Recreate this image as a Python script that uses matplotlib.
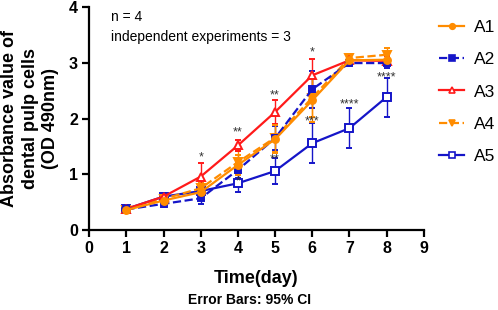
import matplotlib
matplotlib.use("Agg")
import matplotlib.pyplot as plt
from matplotlib.lines import Line2D

plt.rcParams['font.family'] = ['Liberation Sans', 'DejaVu Sans']

days = [1, 2, 3, 4, 5, 6, 7, 8]
A1 = [0.36, 0.53, 0.68, 1.17, 1.63, 2.33, 3.05, 3.06]
A2 = [0.37, 0.47, 0.57, 1.08, 1.65, 2.53, 3.00, 3.00]
A3 = [0.38, 0.60, 0.96, 1.52, 2.12, 2.78, 3.05, 3.04]
A4 = [0.36, 0.56, 0.75, 1.22, 1.66, 2.38, 3.09, 3.15]
A5 = [0.38, 0.60, 0.70, 0.84, 1.06, 1.56, 1.83, 2.39]
A1_err = [0.04, 0.06, 0.10, 0.18, 0.25, 0.38, 0.08, 0.12]
A2_err = [0.04, 0.06, 0.10, 0.15, 0.22, 0.33, 0.05, 0.08]
A3_err = [0.04, 0.06, 0.25, 0.10, 0.22, 0.30, 0.05, 0.08]
A4_err = [0.04, 0.06, 0.10, 0.20, 0.25, 0.35, 0.06, 0.12]
A5_err = [0.04, 0.06, 0.10, 0.15, 0.24, 0.36, 0.36, 0.35]

star_x = [3, 4, 5, 6, 4, 5, 6, 7, 8]
star_y = [1.30, 1.75, 2.42, 3.20, 0.88, 1.26, 1.95, 2.25, 2.75]
star_txt = ['*', '**', '**', '*', '*', '**', '***', '****', '****']

orange = '#FF8C00'
blue = '#1515C8'
red = '#FF1A1A'

fig = plt.figure(figsize=(4.98, 3.10), dpi=100)
ax = fig.add_axes([0.179, 0.258, 0.672, 0.718])

series = [
    ('A5', A5, A5_err, blue, '-', 's', 'white', 5.5),
    ('A4', A4, A4_err, orange, '--', 'v', orange, 5.5),
    ('A3', A3, A3_err, red, '-', '^', 'white', 6),
    ('A2', A2, A2_err, blue, '--', 's', blue, 5),
    ('A1', A1, A1_err, orange, '-', 'o', orange, 5),
]
handles = {}
for name, ys, err, col, ls, mk, mfc, ms in series:
    ax.errorbar(days, ys, yerr=err, color=col, ls=ls, lw=1.6, marker=mk,
                mfc=mfc, mec=col, mew=1.4, ms=ms, capsize=2.5,
                elinewidth=1.0, capthick=1.0)
    handles[name] = Line2D([], [], color=col, ls=ls, lw=1.6, marker=mk,
                           mfc=mfc, mec=col, mew=1.2, ms=ms - 1)

for x, y, t in zip(star_x, star_y, star_txt):
    ax.text(x, y, t, ha='center', va='center', fontsize=9, color='#333333')

ax.set_xlim(0, 9)
ax.set_ylim(0, 4)
ax.set_xticks(range(0, 10))
ax.set_yticks(range(0, 5))
for s in ['top', 'right']:
    ax.spines[s].set_visible(False)
for s in ['left', 'bottom']:
    ax.spines[s].set_linewidth(1.6)
ax.tick_params(width=1.6, length=5, labelsize=11.5, pad=3)
for lab in ax.get_xticklabels() + ax.get_yticklabels():
    lab.set_fontweight('bold')

ax.set_xlabel('Time(day)', fontsize=13, fontweight='bold', labelpad=10)
ax.set_ylabel('Absorbance value of\ndental pulp cells\n(OD 490nm)', fontsize=13,
              fontweight='bold', labelpad=7, linespacing=1.28)
fig.text(0.5, 0.032, 'Error Bars: 95% CI', ha='center', va='center',
         fontsize=10, fontweight='bold')

ax.text(0.6, 3.82, 'n = 4', fontsize=10, va='center')
ax.text(0.6, 3.46, 'independent experiments = 3', fontsize=10, va='center')

order = ['A1', 'A2', 'A3', 'A4', 'A5']
fig.legend([handles[n] for n in order], order, loc='upper left',
           bbox_to_anchor=(0.872, 0.952), frameon=False, fontsize=12.5,
           handlelength=1.4, labelspacing=0.98, handletextpad=0.6,
           borderaxespad=0, borderpad=0.3)

fig.savefig('out.png', dpi=100)
